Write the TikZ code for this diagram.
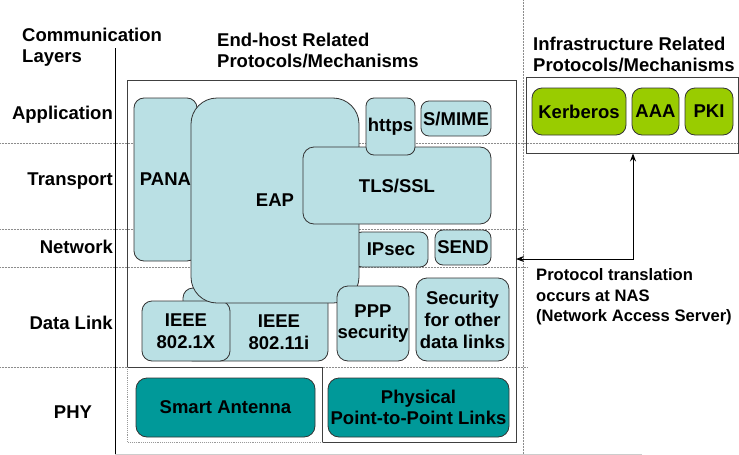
\documentclass[tikz,border=0pt]{standalone}
\usepackage{fontspec}
\setmainfont{Liberation Sans}
\usetikzlibrary{arrows.meta}
\definecolor{protblue}{RGB}{186,224,228}
\definecolor{phyteal}{RGB}{0,153,153}
\definecolor{infragreen}{RGB}{153,204,0}
\tikzset{
  every node/.style={font=\bfseries\fontsize{18.5}{21.5}\selectfont, align=center, inner sep=0pt},
  layerline/.style={densely dotted, black!45, line width=.5pt},
  frame/.style={draw=black!75, line width=.9pt},
  prot/.style={draw=black!80, fill=protblue, line width=.8pt, rounded corners=8pt},
  phy/.style={prot, fill=phyteal},
  infra/.style={prot, fill=infragreen},
}
\begin{document}
\begin{tikzpicture}[x=1pt,y=-1pt]
  \useasboundingbox (0,0) rectangle (739,455);
  % layer separators
  \draw[layerline] (0,143) -- (739,143);
  \foreach \Y in {229,267,367}{
    \draw[layerline] (0,\Y) -- (527,\Y);
  }
  \draw[layerline] (523,0) -- (523,455);
  \draw[line width=.9pt] (115,48) -- (115,455);
  \draw[black!20, line width=.9pt] (115,454) -- (642,454);
  % titles
  \node[anchor=west, align=left, font=\bfseries\fontsize{18.5}{21}\selectfont] (layers) at (22,47.5) {Communication\\Layers};
  \node[anchor=west, align=left, font=\bfseries\fontsize{18.5}{21}\selectfont] (endhost) at (217,50.5) {End-host Related\\Protocols/Mechanisms};
  \node[anchor=west, align=left, font=\bfseries\fontsize{18.5}{21}\selectfont] (infratitle) at (533,54.5) {Infrastructure Related\\Protocols/Mechanisms};
  \foreach \L/\Y in {Application/115, Transport/181, Network/247, Data Link/323}{
    \node[anchor=east] (layer-\Y) at (113,\Y) {\L};
  }
  \node (layer-412) at (73,412) {PHY};
  % end-host frame
  \draw[frame] (127,367) -- (127,80) -- (516,80) -- (516,442) -- (322,442) -- (322,367) -- cycle;
  \draw[frame, densely dotted, draw=black!40] (127,367) -- (127,442) -- (322,442);
  % end-host protocols
  \node[prot, rounded corners=10pt, minimum width=63, minimum height=163] (pana) at (165.5,179.5) {PANA};
  \node[prot, rounded corners=10pt, minimum width=145, minimum height=73] (ieee11i) at (255.5,324.5) {};
  \node (ieee11i-txt) at (279,332) {IEEE\\802.11i};
  \node[prot, rounded corners=10pt, minimum width=88, minimum height=60] (ieee1x) at (186,331) {IEEE\\802.1X};
  \node[prot, minimum width=74, minimum height=35] (ipsec) at (391,249.5) {IPsec};
  \node[prot, rounded corners=26pt, minimum width=168, minimum height=205] (eap) at (275,200.5) {EAP};
  \node[prot, rounded corners=11pt, minimum width=188, minimum height=77] (tls) at (397,185.5) {TLS/SSL};
  \node[prot, minimum width=49, minimum height=57] (https) at (390.5,126.5) {https};
  \node[prot, minimum width=70, minimum height=35] (smime) at (456,118.5) {S/MIME};
  \node[prot, minimum width=56, minimum height=35] (send) at (463,247.5) {SEND};
  \node[prot, rounded corners=11pt, minimum width=72, minimum height=75] (ppp) at (373,323.5) {PPP\\security};
  \node[prot, rounded corners=11pt, minimum width=93, minimum height=83, font=\bfseries\fontsize{18.5}{22}\selectfont] (other) at (462.5,319.5) {Security\\for other\\data links};
  \node[phy, rounded corners=11pt, minimum width=179, minimum height=59] (antenna) at (225.5,407.5) {Smart Antenna};
  \node[phy, rounded corners=11pt, minimum width=181, minimum height=59, font=\bfseries\fontsize{18.5}{21}\selectfont] (p2p) at (418.5,407.5) {Physical\\Point-to-Point Links};
  % infrastructure protocols
  \node[frame, minimum width=212, minimum height=76] (infrabox) at (632,115) {};
  \node[infra, rounded corners=10pt, minimum width=94, minimum height=47] (kerberos) at (579,111.5) {Kerberos};
  \node[infra, rounded corners=10pt, minimum width=47, minimum height=47] (aaa) at (655.5,111.5) {AAA};
  \node[infra, rounded corners=10pt, minimum width=48, minimum height=47] (pki) at (709,111.5) {PKI};
  % translation at the NAS
  \coordinate (nas) at (633,259);
  \coordinate (ehright) at (516,259);
  \draw[{Stealth[length=8pt,width=6pt]}-{Stealth[length=8pt,width=6pt]}, line width=.9pt] (ehright) -- (nas) -- (infrabox.south -| nas);
  \node[anchor=west, align=left, font=\bfseries\fontsize{16.6}{20.3}\selectfont] (nastxt) at (536,297) {Protocol translation\\occurs at NAS\\(Network Access Server)};
\end{tikzpicture}
\end{document}
